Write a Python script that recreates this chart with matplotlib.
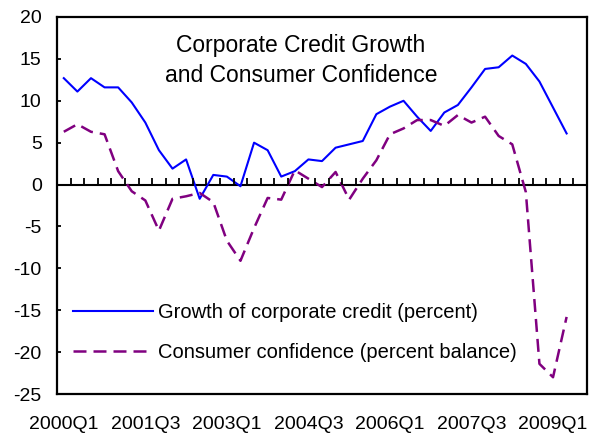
import matplotlib
matplotlib.use('Agg')
import matplotlib.pyplot as plt
import numpy as np

plt.rcParams['font.family'] = ['Liberation Sans', 'DejaVu Sans']
plt.rcParams['axes.unicode_minus'] = False

# quarterly categories 2000Q1 .. 2009Q3
quarters = [f'{y}Q{q}' for y in range(2000, 2010) for q in range(1, 5)][:39]
tick_labels = ['2000Q1', '2001Q3', '2003Q1', '2004Q3', '2006Q1', '2007Q3', '2009Q1']

# growth of corporate credit (percent), 2000Q1 .. 2009Q2
credit = [12.7, 11.1, 12.7, 11.6, 11.6, 9.8, 7.4, 4.1, 1.9, 3.0,
          -1.7, 1.15, 0.95, -0.2, 5.0, 4.1, 0.95, 1.6, 3.0, 2.8,
          4.4, 4.8, 5.2, 8.4, 9.3, 10.0, 8.1, 6.4, 8.6, 9.5,
          11.6, 13.8, 14.0, 15.4, 14.4, 12.3, 9.2, 6.1]
# consumer confidence (percent balance)
confidence = [6.3, 7.2, 6.3, 6.0, 1.6, -0.8, -1.9, -5.5, -1.7, -1.4,
              -1.0, -2.1, -6.7, -9.1, -5.2, -1.6, -1.8, 1.7, 0.7, -0.3,
              1.5, -1.8, 0.7, 2.9, 6.0, 6.7, 7.7, 7.7, 7.0, 8.3,
              7.4, 8.1, 5.8, 4.8, -0.9, -21.4, -23.0, -15.8]

fig = plt.figure(figsize=(5.94, 4.36), dpi=100)
ax = fig.add_axes([57/594, 1 - 394/436, 530/594, 377/436])

ax.plot(range(len(credit)), credit, color='#0000FF', lw=1.5,
        label='Growth of corporate credit (percent)')
ax.plot(range(len(confidence)), confidence, color='#800080', lw=1.8,
        linestyle=(0, (5.2, 2.8)),
        label='Consumer confidence (percent balance)')

# zero line with category tick marks pointing up
ax.axhline(0, color='black', lw=1.5, zorder=1)
bounds = np.arange(len(quarters) + 1) - 0.5
ax.plot(bounds[1:-1], np.zeros(len(bounds) - 2), linestyle='none',
        marker=2, ms=5, mew=1.3, color='black')

ax.set_xlim(-0.5, len(quarters) - 0.5)
ax.set_ylim(-25, 20)
ax.set_yticks(np.arange(-25, 21, 5))
ax.set_xticks([quarters.index(t) for t in tick_labels])
ax.set_xticklabels(tick_labels, fontsize=14)
ax.tick_params(axis='x', length=0, pad=16)
ax.tick_params(axis='y', direction='in', length=3, width=1.3,
               labelsize=14, pad=11)
for s in ax.spines.values():
    s.set_linewidth(1.6)

ax.text(0.46, 0.885, 'Corporate Credit Growth\nand Consumer Confidence',
        transform=ax.transAxes, ha='center', va='center', fontsize=16.5,
        linespacing=1.38)

ax.legend(loc='center left', bbox_to_anchor=(0.03, 0.162), frameon=False,
          fontsize=14.5, handlelength=4, handletextpad=0.25,
          labelspacing=1.05, borderpad=0, borderaxespad=0)

fig.savefig('out.png', dpi=100)
